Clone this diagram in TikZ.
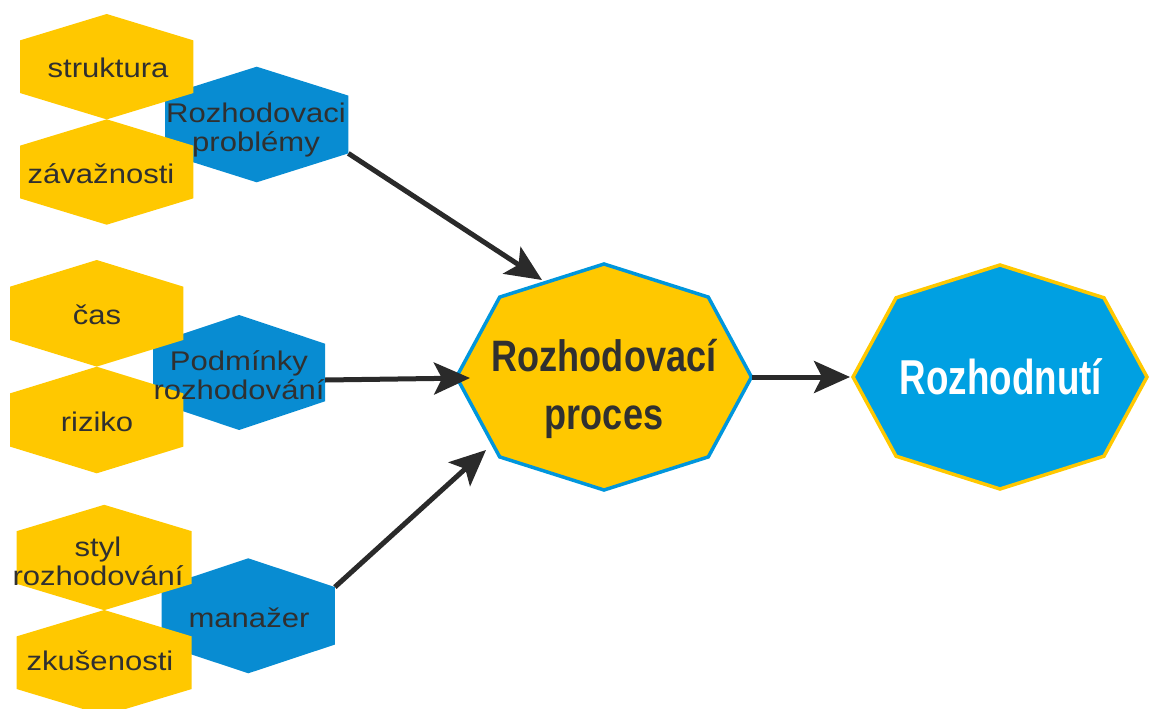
\documentclass[tikz,border=0pt]{standalone}
\usepackage{fontspec}
\usepackage{graphicx}
\setmainfont{Liberation Sans}
\usetikzlibrary{arrows.meta,calc}

\definecolor{hexyellow}{RGB}{255,200,0}
\definecolor{hexblue}{RGB}{8,140,210}
\definecolor{octblue}{RGB}{0,160,226}
\definecolor{rimblue}{RGB}{0,150,220}
\definecolor{inkgray}{RGB}{48,48,48}
\definecolor{arrowgray}{RGB}{42,42,42}

% horizontally widened / narrowed lettering
\newcommand{\wide}[1]{\scalebox{1.15}[1]{#1}}
\newcommand{\narrowbold}[1]{\scalebox{0.82}[1]{#1}}
\newcommand{\narrowerbold}[1]{\scalebox{0.75}[1]{#1}}

% pointy-topped hexagon: name, centre, x radius, y radius, fill colour
\newcommand{\hexcell}[5]{%
  \coordinate (#1) at (#2);
  \foreach \a in {30,90,...,330} {\coordinate (#1-\a) at ($(#1)+(\a:#3 and #4)$);}
  \fill[#5] (#1-30) -- (#1-90) -- (#1-150) -- (#1-210) -- (#1-270) -- (#1-330) -- cycle;
}
% octagon with corners on the axes: name, centre, x radius, y radius, fill, rim
\newcommand{\octcell}[6]{%
  \coordinate (#1) at (#2);
  \foreach \a in {0,45,...,315} {\coordinate (#1-\a) at ($(#1)+(\a:#3 and #4)$);}
  \filldraw[fill=#5, draw=#6, line width=3.5pt, line join=miter]
    (#1-0) -- (#1-45) -- (#1-90) -- (#1-135) -- (#1-180) -- (#1-225) -- (#1-270) -- (#1-315) -- cycle;
}

\tikzset{
  smalltxt/.style={text=inkgray, font=\fontsize{27}{29}\selectfont, align=center, inner sep=0pt},
  bigtxt/.style={text=inkgray, font=\fontsize{44}{58}\selectfont\bfseries, align=center, inner sep=0pt},
  resulttxt/.style={text=white, font=\fontsize{49}{56}\selectfont\bfseries, align=center, inner sep=0pt},
  flow/.style={draw=arrowgray, line width=5pt, -{Stealth[length=36pt,width=32pt,inset=8pt]}},
}

\begin{document}
\begin{tikzpicture}[x=1pt, y=-1pt]
\useasboundingbox (0,0) rectangle (1151,709);

% blue factor cells (behind the yellow ones)
\hexcell{prob}{256.7,124.5}{105.8}{57.8}{hexblue}
\hexcell{cond}{239.2,372.5}{99.3}{57.5}{hexblue}
\hexcell{mgr}{248.3,615.8}{100}{57.5}{hexblue}

% yellow detail cells
\hexcell{struct}{106.7,66.7}{100}{52.7}{hexyellow}
\hexcell{sever}{106.7,172}{100}{52.7}{hexyellow}
\hexcell{time}{96.7,313.3}{100}{53.3}{hexyellow}
\hexcell{risk}{96.7,420}{100}{53.3}{hexyellow}
\hexcell{style}{104.2,557.5}{101}{52.7}{hexyellow}
\hexcell{exper}{104.2,662.7}{101}{52.7}{hexyellow}

% process and result
\octcell{proc}{604,377}{147.5}{113}{hexyellow}{rimblue}
\octcell{dec}{1000,377}{147}{112}{octblue}{hexyellow}

% connector ends
\coordinate (proc-in1) at ($(proc)+(-62,-97)$);
\coordinate (cond-out) at ($(cond)+(86,7.5)$);
\coordinate (proc-in2) at ($(proc)+(-134,1)$);
\coordinate (proc-in3) at ($(proc)+(-118,73)$);
\coordinate (dec-in) at ($(dec-180)+(-3,0)$);

\draw[flow] (prob-30) -- (proc-in1);
\draw[flow] (cond-out) -- (proc-in2);
\draw[flow] (mgr-330) -- (proc-in3);
\draw[flow] (proc-0) -- (dec-in);

% labels
\node[smalltxt] (t-struct) at (108,68) {\wide{struktura}};
\node[smalltxt] (t-sever) at (101,174) {\wide{závažnosti}};
\node[smalltxt] (t-prob) at (256,130) {\wide{Rozhodovaci}\\\wide{problémy}};
\node[smalltxt] (t-time) at (97,315) {\wide{čas}};
\node[smalltxt] (t-risk) at (97,422) {\wide{riziko}};
\node[smalltxt] (t-cond) at (239,375) {\wide{Podmínky}\\\wide{rozhodování}};
\node[smalltxt] (t-style) at (98,561) {\wide{styl}\\\wide{rozhodování}};
\node[smalltxt] (t-exper) at (100,661) {\wide{zkušenosti}};
\node[smalltxt] (t-mgr) at (249,618) {\wide{manažer}};
\node[bigtxt] (t-proc) at (604,389) {\narrowbold{Rozhodovací}\\\narrowbold{proces}};
\node[resulttxt] (t-dec) at (1001,377) {\narrowerbold{Rozhodnutí}};
\end{tikzpicture}
\end{document}
